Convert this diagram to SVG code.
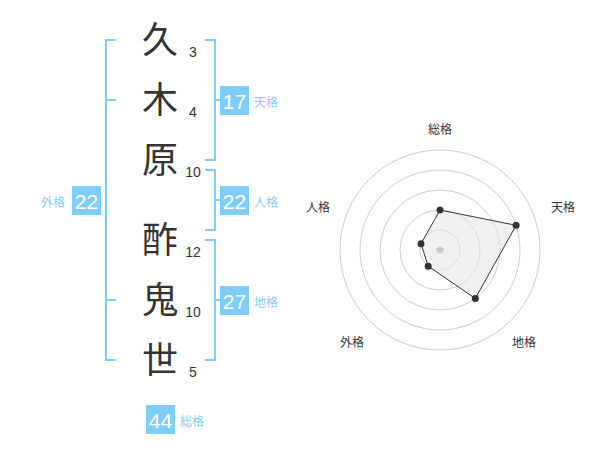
<svg xmlns="http://www.w3.org/2000/svg" width="600" height="470" viewBox="0 0 600 470">
<style>
.br{fill:none;stroke:#7fcdf8;stroke-width:2}
.box{fill:#7fcdf8}
.bn{font-family:"Liberation Sans",Arial,sans-serif;font-size:21px;fill:#fff;text-anchor:middle}
.bl{font-family:"Noto Sans CJK JP","Noto Sans CJK SC",sans-serif;font-size:12px;fill:#7fcdf8}
.kj{font-family:"Noto Sans CJK JP","Noto Sans CJK SC",sans-serif;font-size:36px;fill:#333;text-anchor:middle}
.st{font-family:"Liberation Sans",Arial,sans-serif;font-size:14px;fill:#333;text-anchor:middle}
.rl{font-family:"Noto Sans CJK JP","Noto Sans CJK SC",sans-serif;font-size:12px;fill:#333;text-anchor:middle}
.ring{fill:none;stroke:#ccc;stroke-width:1}
.pt{fill:#333}
</style>
<rect width="600" height="470" fill="#fff"/>
<g id="connectors">
<path class="br" d="M116,40 H106 V360 H116 M106,100 H116 M106,300 H116"/>
<path class="br" d="M205,40 H215 V160 H205 M215,100 H221"/>
<path class="br" d="M205,170 H215 V230 H205 M215,200 H221"/>
<path class="br" d="M205,240 H215 V360 H205 M215,300 H221"/>
</g>
<g id="chars">
<text class="kj" x="160" y="53">久</text>
<text class="kj" x="160" y="113">木</text>
<text class="kj" x="160" y="173">原</text>
<text class="kj" x="160" y="253">酢</text>
<text class="kj" x="160" y="313">鬼</text>
<text class="kj" x="160" y="373">世</text>
<text class="st" x="193" y="57">3</text>
<text class="st" x="193" y="117">4</text>
<text class="st" x="193" y="177">10</text>
<text class="st" x="193" y="257">12</text>
<text class="st" x="193" y="317">10</text>
<text class="st" x="193" y="377">5</text>
</g>
<g id="tenkaku">
<rect class="box" x="220" y="86" width="29" height="29"/>
<text class="bn" x="234.5" y="108.5">17</text>
<text class="bl" x="254" y="107">天格</text>
</g>
<g id="jinkaku">
<rect class="box" x="220" y="186" width="29" height="29"/>
<text class="bn" x="234.5" y="208.5">22</text>
<text class="bl" x="254" y="207">人格</text>
</g>
<g id="chikaku">
<rect class="box" x="220" y="286" width="29" height="29"/>
<text class="bn" x="234.5" y="308.5">27</text>
<text class="bl" x="254" y="307">地格</text>
</g>
<g id="gaikaku">
<rect class="box" x="72" y="186" width="29" height="29"/>
<text class="bn" x="86.5" y="208.5">22</text>
<text class="bl" x="41" y="207">外格</text>
</g>
<g id="soukaku">
<rect class="box" x="146" y="405" width="29" height="29"/>
<text class="bn" x="160.5" y="427.5">44</text>
<text class="bl" x="180" y="426">総格</text>
</g>
<g id="radar">
<circle class="ring" cx="440" cy="250" r="20"/>
<circle class="ring" cx="440" cy="250" r="40"/>
<circle class="ring" cx="440" cy="250" r="60"/>
<circle class="ring" cx="440" cy="250" r="80"/>
<circle class="ring" cx="440" cy="250" r="100"/>
<polygon points="440,210 516.1,225.3 475.3,298.5 428.2,266.2 421,243.8" fill="#e6e6e6" fill-opacity="0.6" stroke="#333" stroke-width="1"/>
<circle cx="440" cy="250" r="3.5" fill="#ccc"/>
<circle class="pt" cx="440" cy="210" r="3.5"/>
<circle class="pt" cx="516.1" cy="225.3" r="3.5"/>
<circle class="pt" cx="475.3" cy="298.5" r="3.5"/>
<circle class="pt" cx="428.2" cy="266.2" r="3.5"/>
<circle class="pt" cx="421" cy="243.8" r="3.5"/>
<text class="rl" x="440" y="134">総格</text>
<text class="rl" x="563" y="212">天格</text>
<text class="rl" x="524" y="347">地格</text>
<text class="rl" x="352" y="347">外格</text>
<text class="rl" x="318" y="212">人格</text>
</g>
</svg>
